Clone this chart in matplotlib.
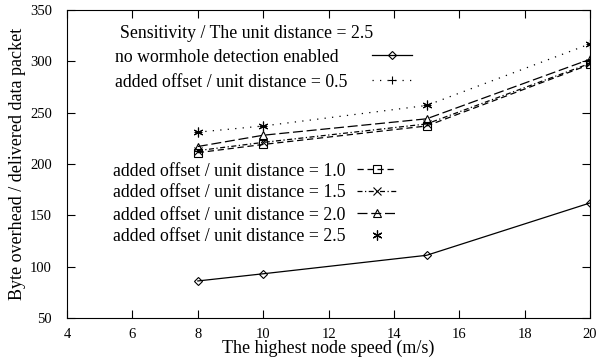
import matplotlib
matplotlib.use("Agg")
import matplotlib.pyplot as plt

plt.rcParams['font.family'] = ['Liberation Serif', 'DejaVu Serif']

# node speed (m/s)
speed = [8, 10, 15, 20]

# byte overhead per delivered data packet
no_detection = [86, 93, 111, 162]
offset_05 = [231, 237, 257, 317]
offset_10 = [211, 219, 237, 297]
offset_15 = [213, 221, 239, 298]
offset_20 = [217, 228, 244, 302]
offset_25 = [231, 237, 257, 317]

labels = ["no wormhole detection enabled",
          "added offset / unit distance = 0.5",
          "added offset / unit distance = 1.0",
          "added offset / unit distance = 1.5",
          "added offset / unit distance = 2.0",
          "added offset / unit distance = 2.5"]

fig = plt.figure(figsize=(5.99, 3.58), dpi=100)
ax = fig.add_axes([0.112, 0.112, 0.873, 0.860])

k = dict(color='black', lw=0.9, markersize=5.5, mfc='none', mew=0.8)
l0, = ax.plot(speed, no_detection, '-', marker='D', **dict(k, markersize=4.5))
l1, = ax.plot(speed, offset_05, linestyle=(0, (1, 5)), marker='+', **k)
l2, = ax.plot(speed, offset_10, linestyle=(0, (5, 3)), marker='s', **k)
l3, = ax.plot(speed, offset_15, linestyle=(0, (4, 2, 1, 2)), marker='x', **k)
l4, = ax.plot(speed, offset_20, linestyle=(0, (8, 3)), marker='^', **k)
l5, = ax.plot(speed, offset_25, linestyle='none', marker=(6, 2, 0), **dict(k, markersize=7))

ax.set_xlim(4, 20)
ax.set_ylim(50, 350)
ax.set_xticks(range(4, 21, 2))
ax.set_yticks(range(50, 351, 50))
ax.tick_params(direction='in', length=6, top=True, right=True, labelsize=10.5)
ax.tick_params(axis='x', pad=7)
ax.tick_params(axis='y', pad=11)
ax.set_xlabel('The highest node speed (m/s)', fontsize=13, labelpad=-1)
ax.set_ylabel('Byte overhead / delivered data packet', fontsize=13, labelpad=3)

# key: left-aligned text, line samples to the right (gnuplot style)
fs = 12.8
ax.text(0.101, 0.925, 'Sensitivity / The unit distance = 2.5', transform=ax.transAxes,
        fontsize=fs, va='center', ha='left')
rows = [(l0, 0.092, 0.847, 0.583), (l1, 0.092, 0.766, 0.583),
        (l2, 0.088, 0.477, 0.555), (l3, 0.088, 0.406, 0.555),
        (l4, 0.088, 0.334, 0.555), (l5, 0.088, 0.263, 0.555)]
for (h, tx, ty, hx), lab in zip(rows, labels):
    ax.text(tx, ty, lab, transform=ax.transAxes, fontsize=fs, va='center', ha='left')
    leg = ax.legend([h], [''], loc='center left', bbox_to_anchor=(hx, ty),
                    frameon=False, handlelength=2.25, handletextpad=0,
                    borderpad=0, borderaxespad=0, fontsize=fs)
    ax.add_artist(leg)

fig.savefig('out.png', dpi=100)
